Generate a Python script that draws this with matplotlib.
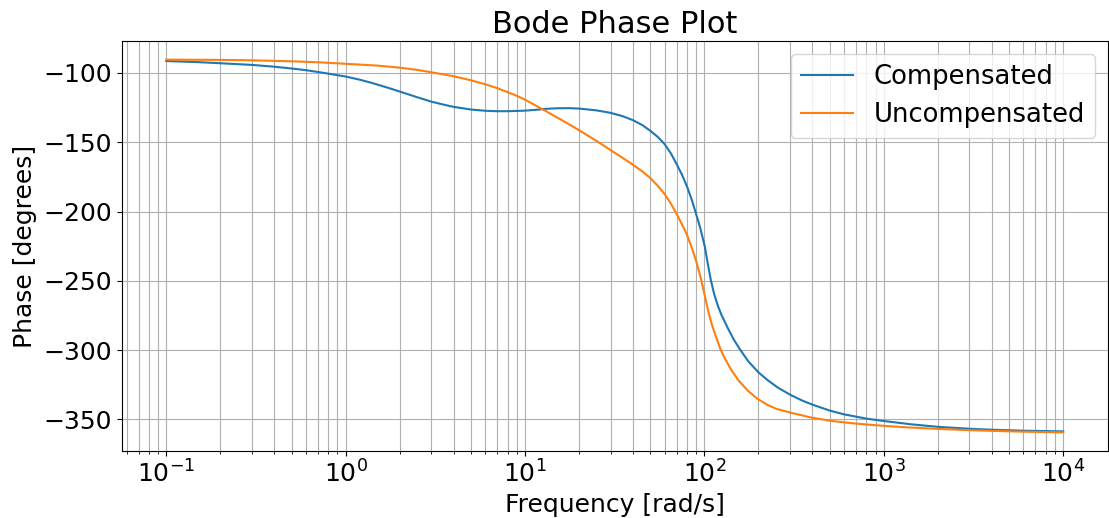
import matplotlib
matplotlib.use("Agg")
import matplotlib.pyplot as plt

# Compensated system
freq_comp = [0.1, 0.15, 0.2, 0.3, 0.4, 0.5, 0.6, 0.7, 0.8, 1.0, 1.2, 1.4, 1.7, 2.0, 2.5,
             3.0, 3.5, 4.0, 5.0, 6.0, 7.0, 8.0, 9.0, 10, 11.5, 13, 15, 17.5, 20, 25,
             30, 35, 40, 45, 50, 55, 60, 65, 70, 75, 80, 85, 89, 94.6, 100.4, 104.2,
             108.6, 113.3, 119.2, 124.4, 135.5, 146, 157, 175, 200, 226, 256, 300,
             350, 400, 500, 600, 800, 1000, 1400, 2000, 3000, 4000, 6000, 10000]
phase_comp = [-91.4, -92.2, -93.0, -94.2, -95.5, -96.8, -98.0, -99.3, -100.5, -102.6,
              -104.9, -107.2, -110.5, -113.4, -117.5, -120.7, -122.8, -124.5, -126.4,
              -127.3, -127.6, -127.6, -127.4, -127.2, -126.6, -125.9, -125.5, -125.4,
              -125.7, -127.0, -128.8, -131.2, -134.1, -137.6, -141.8, -146.2, -151.4,
              -158.0, -165.8, -173.5, -182.0, -191.5, -200.0, -211.5, -225.0, -237.0,
              -249.5, -259.5, -268.5, -274.5, -284.5, -292.5, -299.0, -307.8, -316.0,
              -321.8, -326.9, -332.1, -336.3, -339.3, -343.6, -346.3, -349.4, -351.1,
              -353.4, -355.3, -356.7, -357.4, -358.1, -358.6]

# Uncompensated system
freq_unc = [0.1, 0.2, 0.3, 0.5, 0.7, 1.0, 1.5, 2.0, 2.5, 3.0, 4.0, 5.0, 6.0, 7.0, 8.0,
            9.0, 10, 13, 16, 20, 25, 30, 35, 40, 45, 50, 55, 60, 65, 70, 75, 80, 85,
            90, 95, 100, 103, 106, 110, 115, 123, 130, 140, 155, 175, 197, 225, 250,
            300, 400, 500, 650, 800, 1000, 1400, 2000, 3000, 4000, 6000, 10000]
phase_unc = [-90.4, -90.6, -90.9, -91.6, -92.3, -93.4, -94.7, -96.2, -97.8, -99.5,
             -102.4, -105.3, -108.2, -111.0, -113.9, -116.5, -119.3, -127.4, -134.0,
             -141.3, -149.0, -155.7, -161.3, -166.3, -171.0, -175.9, -181.5, -187.4,
             -194.3, -201.8, -209.3, -217.0, -226.0, -236.0, -247.0, -259.4, -267.0,
             -274.0, -281.5, -289.0, -299.5, -306.0, -313.5, -321.9, -329.3, -335.0,
             -339.5, -342.2, -345.0, -348.8, -350.9, -352.6, -353.6, -354.6, -355.8,
             -356.8, -357.7, -358.2, -358.8, -359.3]

labels = ["Compensated", "Uncompensated"]

fig = plt.figure(figsize=(11.09, 5.18), dpi=100)
ax = fig.add_axes([121.5 / 1109, 67 / 518, (1108 - 121.5) / 1109, (451 - 41) / 518])
ax.semilogx(freq_comp, phase_comp, label=labels[0])
ax.semilogx(freq_unc, phase_unc, label=labels[1])
ax.set_title("Bode Phase Plot", fontsize=22)
ax.set_xlabel("Frequency [rad/s]", fontsize=18)
ax.set_ylabel("Phase [degrees]", fontsize=18)
ax.tick_params(labelsize=18)
ax.grid(True, which="both")
ax.legend(fontsize=18.6, loc="upper right", labelspacing=0.45)
fig.savefig("out.png", dpi=100)
